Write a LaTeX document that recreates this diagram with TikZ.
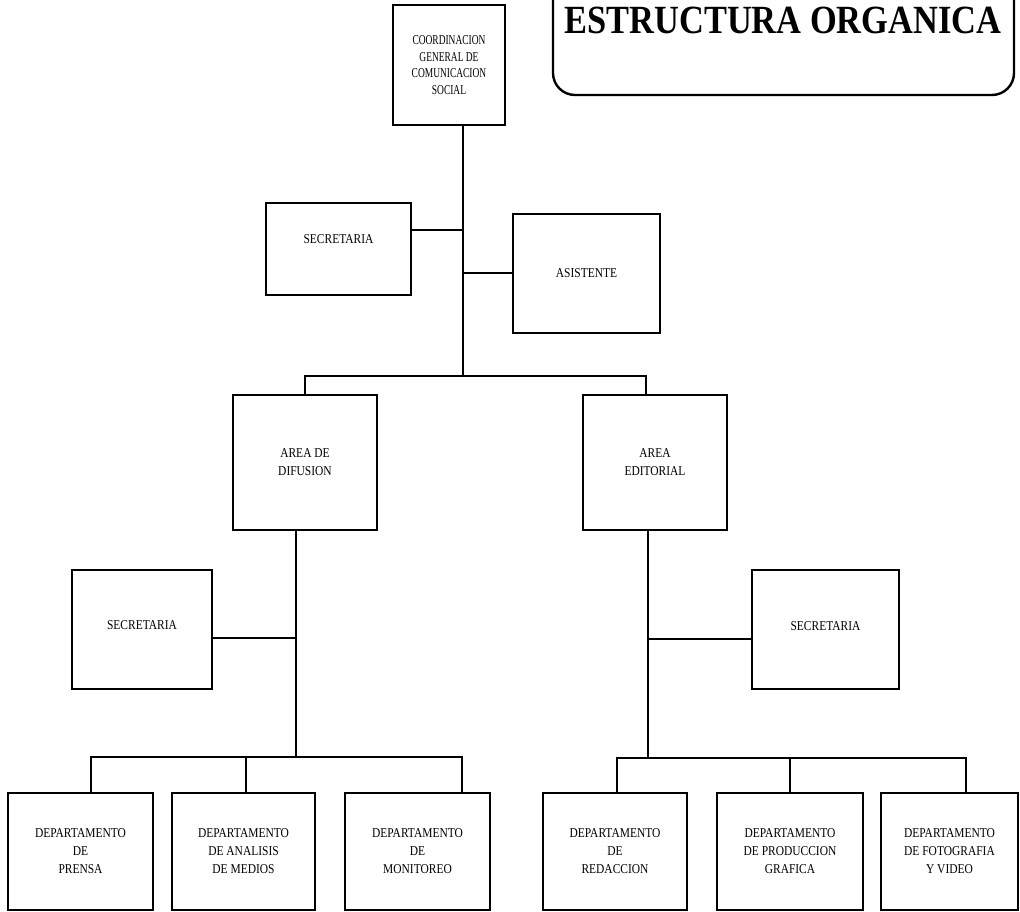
\documentclass[tikz,border=0pt]{standalone}
\usepackage{fontspec}
\setmainfont{Liberation Serif}
\newfontfamily\boxfont[FakeStretch=0.85]{Liberation Serif}
\newfontfamily\narrowfont[FakeStretch=0.7]{Liberation Serif}
\newfontfamily\headfont[FakeStretch=0.86]{Liberation Serif}
\begin{document}
\begin{tikzpicture}[x=1pt,y=-1pt,
  unit/.style={draw=black,line width=2.6pt,inner sep=0pt,align=center,
    font=\boxfont\fontsize{13.5}{18}\selectfont},
  wire/.style={line width=2.4pt,line cap=rect},
  heading/.style={inner sep=0pt,anchor=base,
    font=\headfont\bfseries\fontsize{40}{40}\selectfont}]
\useasboundingbox (0,0) rectangle (1020,912);

% title panel
\node[heading] (title) at (783,34) {ESTRUCTURA ORGANICA};
\draw[line width=2.4pt,rounded corners=22pt] (553,-30) -- (553,95) -- (1014,95) -- (1014,-30);

% top level
\node[unit,minimum width=112,minimum height=120,
  font=\narrowfont\fontsize{13.5}{16.8}\selectfont] (coord) at (449,65)
  {COORDINACION\\GENERAL DE\\COMUNICACION\\SOCIAL};
\node[unit,minimum width=145,minimum height=92] (secA) at (338.5,249)
  {\raisebox{19pt}{SECRETARIA}};
\node[unit,minimum width=147,minimum height=119] (asis) at (586.5,273.5)
  {ASISTENTE};

% areas
\node[unit,minimum width=144,minimum height=135] (difu) at (305,462.5)
  {AREA DE\\DIFUSION};
\node[unit,minimum width=144,minimum height=135] (edit) at (655,462.5)
  {AREA\\EDITORIAL};

\node[unit,minimum width=140,minimum height=119] (secB) at (142,629.5)
  {\raisebox{8pt}{SECRETARIA}};
\node[unit,minimum width=147,minimum height=119] (secC) at (825.5,629.5)
  {\raisebox{6pt}{SECRETARIA}};

% departments
\node[unit,minimum width=145,minimum height=117] (prensa) at (80.5,851.5)
  {DEPARTAMENTO\\DE\\PRENSA};
\node[unit,minimum width=143,minimum height=117] (analisis) at (243.5,851.5)
  {DEPARTAMENTO\\DE ANALISIS\\DE MEDIOS};
\node[unit,minimum width=145,minimum height=117] (monit) at (417.5,851.5)
  {DEPARTAMENTO\\DE\\MONITOREO};
\node[unit,minimum width=144,minimum height=117] (redac) at (615,851.5)
  {DEPARTAMENTO\\DE\\REDACCION};
\node[unit,minimum width=146,minimum height=117] (produc) at (790,851.5)
  {DEPARTAMENTO\\DE PRODUCCION\\GRAFICA};
\node[unit,minimum width=137,minimum height=117] (foto) at (949.5,851.5)
  {DEPARTAMENTO\\DE FOTOGRAFIA\\Y VIDEO};

% junction points
\coordinate (j0) at (463,376);
\coordinate (j1) at (296,757);
\coordinate (j2) at (648,758);

% top spine
\draw[wire] (coord.south -| j0) -- (j0);
\draw[wire] (secA.east |- 0,230) -- (463,230);
\draw[wire] (asis.west |- 0,273) -- (463,273);
\draw[wire] (difu.north) |- (j0) -| (edit.north -| 646,0);

% left branch
\draw[wire] (difu.south -| j1) -- (j1);
\draw[wire] (secB.east |- 0,638) -- (296,638);
\draw[wire] (prensa.north -| 91,0) |- (j1) -| (monit.north -| 462,0);
\draw[wire] (analisis.north -| 246,0) -- (246,757);

% right branch
\draw[wire] (edit.south -| j2) -- (j2);
\draw[wire] (secC.west |- 0,639) -- (648,639);
\draw[wire] (redac.north -| 617,0) |- (j2) -| (foto.north -| 966,0);
\draw[wire] (produc.north) -- (790,758);
\end{tikzpicture}
\end{document}
